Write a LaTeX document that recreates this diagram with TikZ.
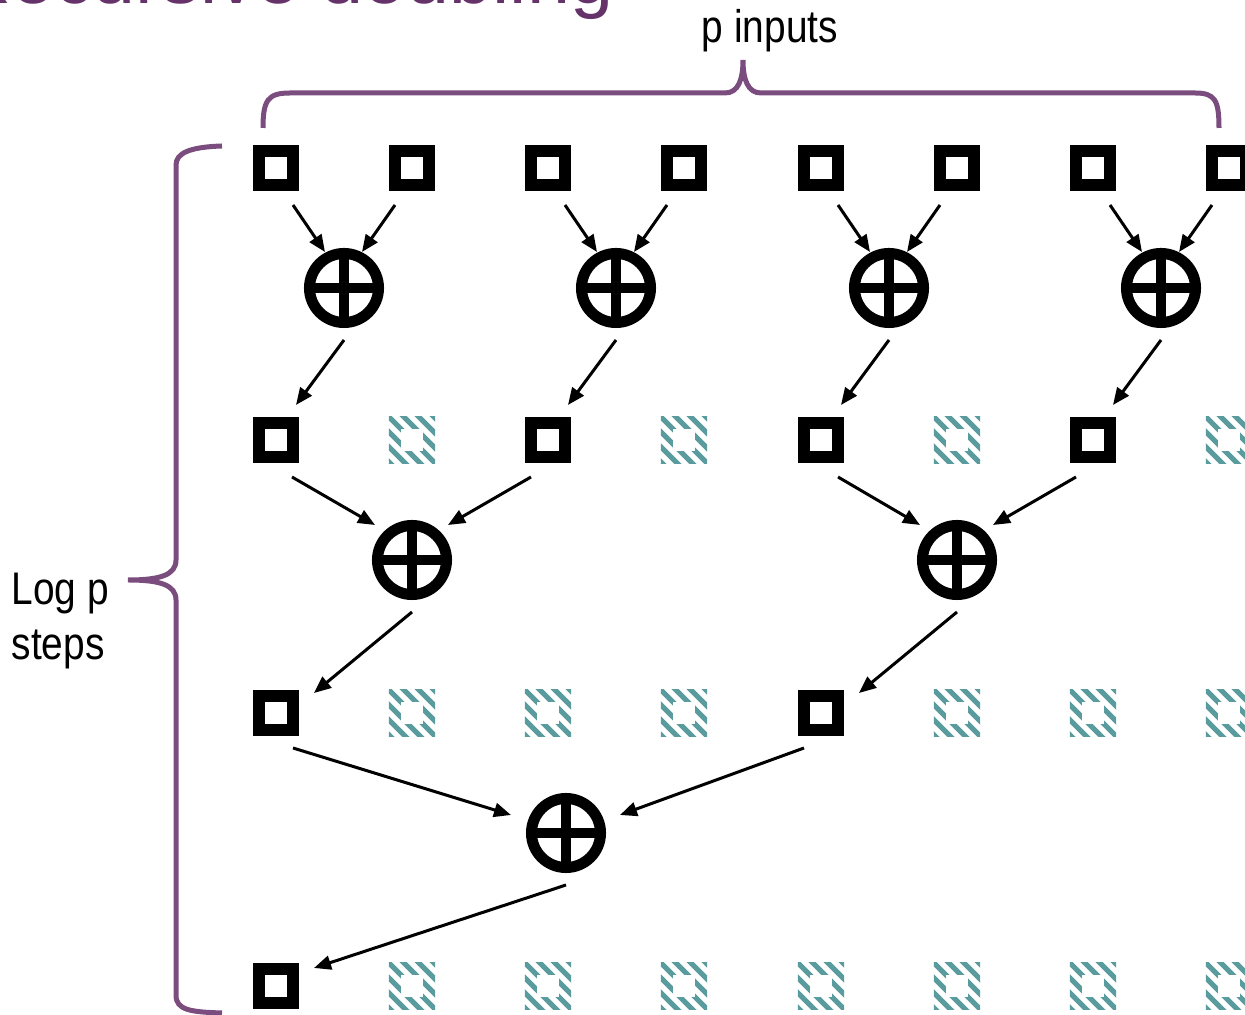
\documentclass[tikz,border=0pt]{standalone}
\usepackage{fontspec}
\setmainfont{Liberation Sans}
\newfontfamily\narrowsans[FakeStretch=0.85]{Liberation Sans}
\usetikzlibrary{arrows.meta}
\usetikzlibrary{calc}
\tikzset{>={Triangle[length=0.17cm, width=0.14cm]}}
\definecolor{braceViolet}{HTML}{7B4C7E}
\definecolor{titleViolet}{HTML}{66326A}
\definecolor{ghostTeal}{HTML}{5A9C9E}
\tikzset{
  box/.style={draw, line width=0.12cm, minimum size=0.34cm, inner sep=0},
  ghost/.style={minimum size=0.46cm, inner sep=0,
    path picture={
      \foreach \k in {-60,-45,...,60}
        \draw[ghostTeal, line width=0.05cm] ([shift={(\k-30,30)}]path picture bounding box.center) -- ++(60,-60);
      \fill[white] ([shift={(-11,-11)}]path picture bounding box.center) rectangle ++(22,22);
    }},
  oplus/.style={circle, draw, line width=0.11cm, minimum size=0.69cm, inner sep=0,
    path picture={
      \draw[line width=0.10cm] (path picture bounding box.north) -- (path picture bounding box.south)
        (path picture bounding box.west) -- (path picture bounding box.east);
    }},
  arr/.style={->, line width=0.03cm},
  lbl/.style={font=\narrowsans\fontsize{13pt}{15pt}\selectfont, inner sep=0}
}

\begin{document}
\begin{tikzpicture}[x=0.01cm, y=0.01cm]
    \useasboundingbox (0,0) rectangle (1245,1015);
    \clip (0,0) rectangle (1245,1015);

    \node[anchor=base east, inner sep=0, text=titleViolet, font=\fontsize{22pt}{26pt}\selectfont] (title) at (614,1011) {Recursive doubling};

    % inputs and partial sums
    \foreach \x [count=\i] in {276,412,548,684,821,957,1093,1229}
      \node[box] (in\i) at (\x,847) {};
    \foreach \x [count=\i] in {344,616,889,1161}
      \node[oplus] (p\i) at (\x,727) {};
    \node[box] (b1) at (276,575) {};
    \node[box] (b3) at (548,575) {};
    \node[box] (b5) at (821,575) {};
    \node[box] (b7) at (1093,575) {};
    \node[oplus] (q1) at (412,455) {};
    \node[oplus] (q2) at (957,455) {};
    \node[box] (c1) at (276,302) {};
    \node[box] (c5) at (821,302) {};
    \node[oplus] (r1) at (566,182) {};
    \node[box] (d1) at (276,29) {};

    \foreach \x in {412,684,957,1229}
      \node[ghost] at (\x,575) {};
    \foreach \x in {412,548,684,957,1093,1229}
      \node[ghost] at (\x,302) {};
    \foreach \x in {412,548,684,821,957,1093,1229}
      \node[ghost] at (\x,29) {};

    \foreach \i/\l/\r in {1/1/2, 2/3/4, 3/5/6, 4/7/8} {
      \draw[arr] ($(in\l)+(17,-37)$) -- ($(p\i)+(-19,36)$);
      \draw[arr] ($(in\r)+(-17,-37)$) -- ($(p\i)+(18,36)$);
      \draw[arr] ($(p\i)+(0,-52)$) -- ($(b\l)+(20,35)$);
    }
    \draw[arr] ($(b1)+(16,-37)$) -- ($(q1)+(-37,35)$);
    \draw[arr] ($(b3)+(-17,-37)$) -- ($(q1)+(36,35)$);
    \draw[arr] ($(b5)+(17,-37)$) -- ($(q2)+(-37,35)$);
    \draw[arr] ($(b7)+(-17,-37)$) -- ($(q2)+(36,35)$);
    \draw[arr] ($(q1)+(0,-52)$) -- ($(c1)+(38,20)$);
    \draw[arr] ($(q2)+(0,-52)$) -- ($(c5)+(38,20)$);
    \draw[arr] ($(c1)+(17,-35)$) -- ($(r1)+(-55,18)$);
    \draw[arr] ($(c5)+(-17,-35)$) -- ($(r1)+(54,18)$);
    \draw[arr] ($(r1)+(0,-52)$) -- ($(d1)+(38,18)$);

    % braces
    \draw[braceViolet, line width=0.05cm] (263,887) .. controls (263,915) and (268,922) .. (290,922)
      -- (725,922) .. controls (738,922) and (743,935) .. (743,955)
      .. controls (743,935) and (748,922) .. (761,922)
      -- (1195,922) .. controls (1215,922) and (1219,915) .. (1219,887);
    \draw[braceViolet, line width=0.05cm] (222,869) .. controls (190,868) and (176,862) .. (176,850)
      -- (176,455) .. controls (176,440) and (160,435) .. (128,435)
      .. controls (160,435) and (176,430) .. (176,415)
      -- (176,20) .. controls (176,5) and (190,3) .. (222,2);

    \node[lbl, anchor=base] (inputs) at (770,972) {p inputs};
    \node[lbl, anchor=base west] (logp) at (11,410) {Log p};
    \node[lbl, anchor=base west] (steps) at (11,355) {steps};
  \end{tikzpicture}
\end{document}
